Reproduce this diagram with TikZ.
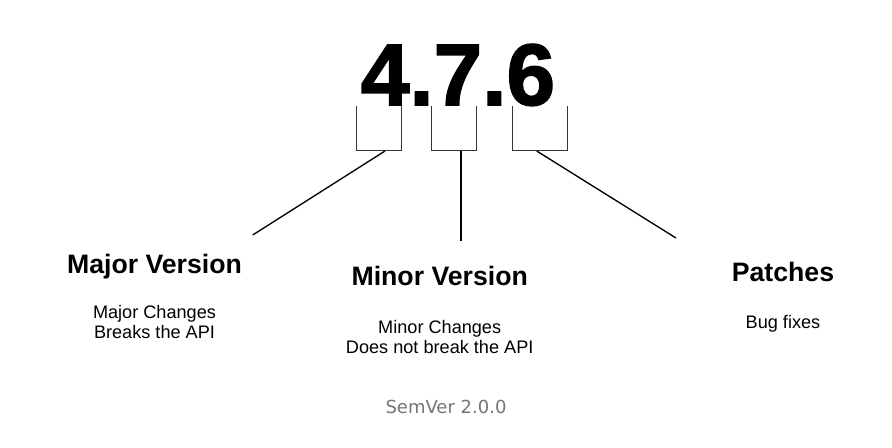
\documentclass[tikz,border=0pt]{standalone}
\usepackage{fontspec}
\setmainfont{Liberation Sans}
\newfontfamily\capfont{DejaVu Sans}
\newfontfamily\numfont[FakeBold=1.8]{Liberation Sans Bold}
\usepackage{tikz}
\tikzset{every picture/.style={line width=0.75pt}}
\definecolor{capgray}{RGB}{117,117,117}
\definecolor{linegray}{RGB}{51,51,51}

\begin{document}
\begin{tikzpicture}[x=0.75pt,y=0.75pt,yscale=-1,xscale=1,
	title/.style={anchor=base,inner sep=0,font=\fontsize{20}{24}\selectfont\bfseries},
	note/.style={anchor=north,inner sep=0,align=center,font=\fontsize{13.6}{15.2}\selectfont},
	brace/.style={draw=linegray},
	leg/.style={draw=black,line width=1pt}]
		\useasboundingbox (0,0) rectangle (892,447);
		
		% Text Node
		\node [anchor=base,inner sep=0,font=\fontsize{65.5}{70}\selectfont\numfont] (num) at (458,105) {4.7.6};
		
		%Brackets
		\draw [brace] (356,106) -- (356,150) -- (401,150) -- (401,106) ;
		\draw [brace] (431,106) -- (431,150) -- (476,150) -- (476,106) ;
		\draw [brace] (512,106) -- (512,150) -- (567,150) -- (567,106) ;
		
		%Line ends
		\coordinate (majtop) at (385,151) ;
		\coordinate (majend) at (252.7,235) ;
		\coordinate (mintop) at (461,151) ;
		\coordinate (minend) at (461,241) ;
		\coordinate (pattop) at (536.7,151) ;
		\coordinate (patend) at (676,238) ;
		
		%Straight Lines
		\draw [leg] (majtop) -- (majend) ;
		\draw [leg] (mintop) -- (minend) ;
		\draw [leg] (pattop) -- (patend) ;
		
		% Text Node
		\node [title] (major) at (154.5,273) {Major Version};
		% Text Node
		\node [note] (majornote) at (154.5,304.8) {Major Changes\\Breaks the API};
		% Text Node
		\node [title] (minor) at (439.7,285) {Minor Version};
		% Text Node
		\node [note] (minornote) at (439.7,319.8) {Minor Changes\\Does not break the API};
		% Text Node
		\node [title] (patch) at (783,281.7) {Patches};
		% Text Node
		\node [note] (patchnote) at (783,315.1) {Bug fixes};
		% Text Node
		\node [anchor=base,inner sep=0,text=capgray,font=\capfont\fontsize{13.5}{16}\selectfont] (caption) at (446,413) {SemVer 2.0.0};
		
\end{tikzpicture}
\end{document}
